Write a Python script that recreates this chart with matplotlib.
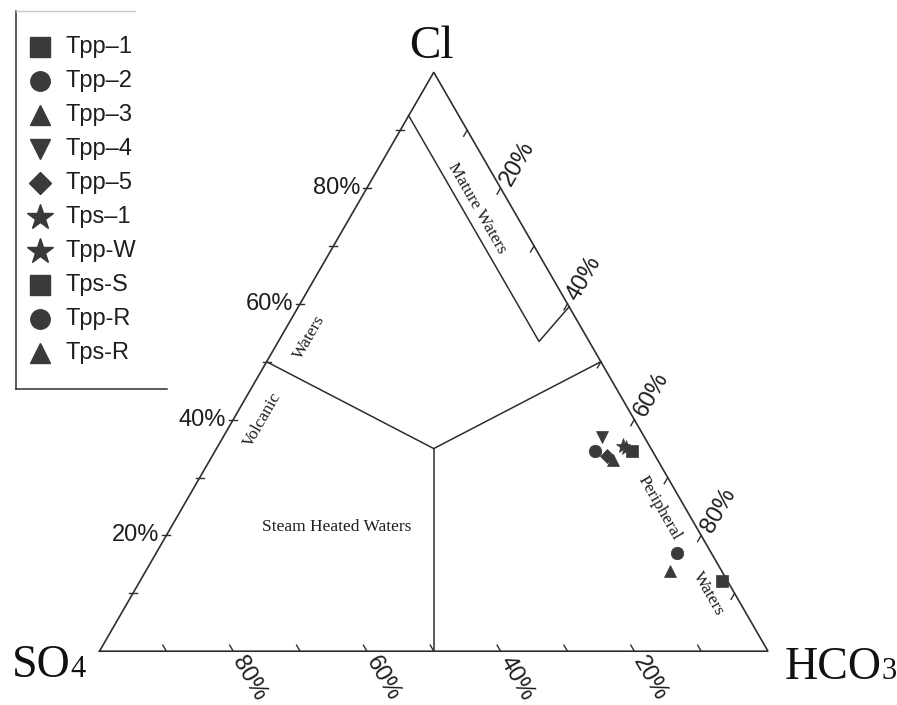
import numpy as np
import matplotlib
matplotlib.use("Agg")
import matplotlib.pyplot as plt

# Sample compositions (relative %, Cl / SO4 / HCO3)
samples = ["Tpp\u20131", "Tpp\u20132", "Tpp\u20133", "Tpp\u20134", "Tpp\u20135",
           "Tps\u20131", "Tpp-W", "Tps-S", "Tpp-R", "Tps-R"]
cl_pct   = [34.6, 34.5, 33.0, 37.0, 33.7, 35.5, 35.1, 12.1, 16.9, 13.8]
so4_pct  = [3.1, 8.6, 6.7, 6.4, 7.2, 3.9, 3.7, 0.9, 5.1, 7.7]
hco3_pct = [62.3, 56.9, 60.3, 56.6, 59.1, 60.6, 61.2, 87.0, 78.0, 78.5]
markers  = ["s", "o", "^", "v", "D", "*", "*", "s", "o", "^"]

# Axis tick values (%)
tick_vals = [10, 20, 30, 40, 50, 60, 70, 80, 90]
label_vals = [20, 40, 60, 80]

# Field boundaries (Cl, SO4, HCO3 in %)
mature_field = [(92.5, 7.5, 0.0), (53.5, 7.5, 39.0), (59.5, 0.0, 40.5)]
field_centre = (35.0, 32.5, 32.5)
field_spokes = [(50.0, 50.0, 0.0), (50.0, 0.0, 50.0), (0.0, 50.0, 50.0)]

LINE = "#2e2e2e"
MARK = "#3a3a3a"
H = np.sqrt(3) / 2


def tern(cl, so4, hco3):
    cl, so4, hco3 = (np.asarray(v, float) for v in (cl, so4, hco3))
    tot = cl + so4 + hco3
    return (hco3 + 0.5 * cl) / tot, H * cl / tot


W, HT = 897, 705
X0, Y0, S = 99.5, 651.2, 668.5       # pixel position of SO4 corner and side length
fig = plt.figure(figsize=(W / 100, HT / 100), dpi=100)
ax = fig.add_axes([0, 0, 1, 1])
ax.set_xlim(-X0 / S, (W - X0) / S)
ax.set_ylim((Y0 - HT) / S, Y0 / S)
ax.axis("off")
PX = 1.0 / S  # one pixel in data units

# Triangle outline
cx, cy = tern([0, 0, 100, 0], [100, 0, 0, 100], [0, 100, 0, 0])
ax.plot(cx, cy, color=LINE, lw=1.2, solid_joinstyle="miter")

# Field boundaries
mx, my = tern(*zip(*mature_field))
ax.plot(mx, my, color=LINE, lw=1.1)
ccx, ccy = tern(*field_centre)
for sp in field_spokes:
    sx, sy = tern(*sp)
    ax.plot([sx, ccx], [sy, ccy], color=LINE, lw=1.1)

# Ticks along the three sides
tl = 7 * PX
for v in tick_vals:
    # Cl (left side), short horizontal ticks across the side
    x, y = tern(v, 100 - v, 0)
    ax.plot([x - 4 * PX, x + 4 * PX], [y, y], color=LINE, lw=1.0)
    # HCO3 (right side)
    x, y = tern(100 - v, 0, v)
    ax.plot([x, x - 0.5 * tl], [y, y - H * tl], color=LINE, lw=1.0)
    # SO4 (bottom)
    x, y = tern(0, v, 100 - v)
    ax.plot([x, x - 0.5 * tl], [y, y + H * tl], color=LINE, lw=1.0)

sans = ["Liberation Sans", "DejaVu Sans"]
serif = ["Liberation Serif", "DejaVu Serif"]
for v in label_vals:
    x, y = tern(v, 100 - v, 0)
    ax.text(x - 7 * PX, y, f"{v}%", ha="right", va="center", fontsize=17,
            family=sans, color="#1e1e1e")
    x, y = tern(100 - v, 0, v)
    ax.text(x + 17 * PX, y + 25 * PX, f"{v}%", ha="center", va="center",
            rotation=60, rotation_mode="anchor", fontsize=17, family=sans,
            color="#1e1e1e")
    x, y = tern(0, v, 100 - v)
    ax.text(x + 16 * PX, y - 27 * PX, f"{v}%", ha="center", va="center",
            rotation=-60, rotation_mode="anchor", fontsize=17, family=sans,
            color="#1e1e1e")


def at(px, py):
    return (px - X0) / S, (Y0 - py) / S


# Corner labels
ax.text(*at(431, 58), "Cl", ha="center", va="baseline", fontsize=34,
        family=serif, color="#111")
ax.text(*at(12, 677), "SO", ha="left", va="baseline", fontsize=33,
        family=serif, color="#111")
ax.text(*at(70, 677), "4", ha="left", va="baseline", fontsize=22,
        family=serif, color="#111")
ax.text(*at(785, 679), "HCO", ha="left", va="baseline", fontsize=33,
        family=serif, color="#111")
ax.text(*at(881, 679), "3", ha="left", va="baseline", fontsize=22,
        family=serif, color="#111")

# Field names
fk = dict(ha="center", va="center", fontsize=12.5, family=serif,
          color="#1e1e1e", rotation_mode="anchor")
ax.text(*at(477, 208), "Mature Waters", rotation=-60, **fk)
ax.text(*at(309, 337), "Waters", rotation=60, **fk)
ax.text(*at(262, 420), "Volcanic", rotation=60, **fk)
ax.text(*at(337, 527), "Steam Heated Waters", rotation=0, **fk)
ax.text(*at(659, 508), "Peripheral", rotation=-60, **fk)
ax.text(*at(708, 594), "Waters", rotation=-60, **fk)

# Samples
px_, py_ = tern(cl_pct, so4_pct, hco3_pct)
for i, name in enumerate(samples):
    ms = 11 if markers[i] == "*" else 9
    if markers[i] == "D":
        ms = 7.5
    ax.plot(px_[i], py_[i], linestyle="none", marker=markers[i],
            markersize=ms, color=MARK, mec=MARK, mew=0.5, zorder=5)

# Legend (drawn in figure pixels)
fig_tr = fig.transFigure


def fp(px, py):
    return px / W, 1 - py / HT


for i, name in enumerate(samples):
    yrow = 46.7 + 34.0 * i
    ms = 19 if markers[i] == "*" else 14
    if markers[i] == "D":
        ms = 11.5
    mx_, my_ = fp(40, yrow)
    fig.add_artist(plt.Line2D([mx_], [my_], marker=markers[i], markersize=ms,
                              color=MARK, mec=MARK, linestyle="none",
                              transform=fig_tr))
    tx, ty = fp(65, yrow)
    fig.text(tx, ty, name, ha="left", va="center", fontsize=17, family=sans,
             color="#1e1e1e")

# Legend frame: left and bottom rules, faint top rule
fig.add_artist(plt.Line2D(*zip(fp(16, 11), fp(16, 389)), color=LINE, lw=1.1,
                          transform=fig_tr))
fig.add_artist(plt.Line2D(*zip(fp(16, 389), fp(167, 389)), color=LINE, lw=1.1,
                          transform=fig_tr))
fig.add_artist(plt.Line2D(*zip(fp(16, 11), fp(135, 11)), color="#c8c8c8",
                          lw=1.0, transform=fig_tr))

fig.savefig("out.png", dpi=100, facecolor="white")
